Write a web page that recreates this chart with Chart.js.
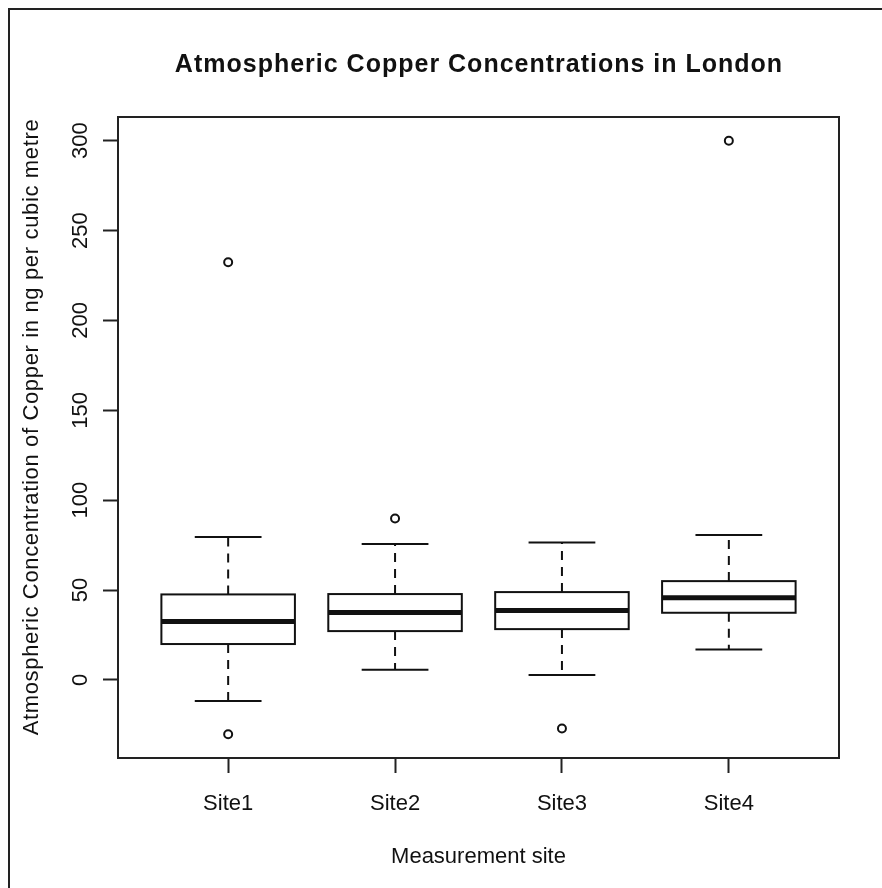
<!DOCTYPE html>
<html>
<head>
<meta charset="utf-8">
<script src="https://cdn.jsdelivr.net/npm/chart.js@4.4.0/dist/chart.umd.min.js"></script>
<style>
  html, body { margin: 0; padding: 0; background: #fff; }
  #wrap { width: 882px; height: 888px; }
</style>
</head>
<body>
<div id="wrap"><canvas id="boxChart" width="882" height="888"></canvas></div>
<script>
// Box statistics (ng per cubic metre)
const sites = ['Site1', 'Site2', 'Site3', 'Site4'];
const lowWhisker = [-11.7, 5.7, 2.8, 17.0];
const lowerQuartile = [20.0, 27.2, 28.3, 37.4];
const medians = [32.6, 37.6, 38.7, 45.7];
const upperQuartile = [47.6, 47.8, 48.9, 55.0];
const highWhisker = [79.6, 75.6, 76.5, 80.7];

// Outliers: site number and value
const outlierSite = [1, 1, 2, 3, 4];
const outlierValue = [232.4, -30.2, 89.8, -27.0, 300.0];

const yTicks = [0, 50, 100, 150, 200, 250, 300];
const yRange = [-43.4, 313.2];
const xRange = [0.34, 4.66];

const titleText = 'Atmospheric Copper Concentrations in London';
const yTitleText = 'Atmospheric Concentration of Copper in ng per cubic metre';

const ink = '#111';
const fontFamily = '"Liberation Sans", Arial, Helvetica, sans-serif';

// Draw whiskers, boxes, medians, frame and the titles with the chart scales
const boxPlugin = {
    id: 'boxes',
    beforeDraw(chart) {
        const ctx = chart.ctx;
        ctx.save();
        ctx.fillStyle = '#fff';
        ctx.fillRect(0, 0, chart.width, chart.height);
        // outer border of the picture (left and top only)
        ctx.strokeStyle = '#222';
        ctx.lineWidth = 2;
        ctx.beginPath();
        ctx.moveTo(9, chart.height);
        ctx.lineTo(9, 9);
        ctx.lineTo(chart.width, 9);
        ctx.stroke();
        ctx.restore();
    },
    afterDatasetsDraw(chart) {
        const { ctx, chartArea } = chart;
        const xs = chart.scales.x;
        const ys = chart.scales.y;
        ctx.save();
        ctx.strokeStyle = ink;

        sites.forEach((s, i) => {
            const cx = xs.getPixelForValue(i + 1);
            const half = xs.getPixelForValue(i + 1.4) - cx;
            const capHalf = xs.getPixelForValue(i + 1.2) - cx;
            const yLo = ys.getPixelForValue(lowWhisker[i]);
            const yQ1 = ys.getPixelForValue(lowerQuartile[i]);
            const yMed = ys.getPixelForValue(medians[i]);
            const yQ3 = ys.getPixelForValue(upperQuartile[i]);
            const yHi = ys.getPixelForValue(highWhisker[i]);

            // dashed whiskers
            ctx.lineWidth = 2;
            ctx.setLineDash([9, 7]);
            ctx.beginPath();
            ctx.moveTo(cx, yQ3);
            ctx.lineTo(cx, yHi);
            ctx.moveTo(cx, yQ1);
            ctx.lineTo(cx, yLo);
            ctx.stroke();
            ctx.setLineDash([]);

            // staples
            ctx.beginPath();
            ctx.moveTo(cx - capHalf, yHi);
            ctx.lineTo(cx + capHalf, yHi);
            ctx.moveTo(cx - capHalf, yLo);
            ctx.lineTo(cx + capHalf, yLo);
            ctx.stroke();

            // box
            ctx.strokeRect(cx - half, yQ3, half * 2, yQ1 - yQ3);

            // median
            ctx.lineWidth = 5;
            ctx.lineCap = 'butt';
            ctx.beginPath();
            ctx.moveTo(cx - half, yMed);
            ctx.lineTo(cx + half, yMed);
            ctx.stroke();
        });

        // plot frame
        ctx.lineWidth = 2;
        ctx.strokeStyle = '#222';
        ctx.strokeRect(chartArea.left, chartArea.top,
            chartArea.right - chartArea.left, chartArea.bottom - chartArea.top);
        ctx.restore();
    },
    afterDraw(chart) {
        const { ctx, chartArea } = chart;
        const midX = (chartArea.left + chartArea.right) / 2;
        ctx.save();
        ctx.fillStyle = ink;

        // main title, centred over the plot region
        ctx.font = 'bold 25px ' + fontFamily;
        ctx.letterSpacing = '1px';
        ctx.textAlign = 'center';
        ctx.textBaseline = 'alphabetic';
        ctx.fillText(titleText, midX + 0.5, 72);

        // y axis title, rotated
        ctx.font = '22px ' + fontFamily;
        ctx.letterSpacing = '0.65px';
        ctx.textBaseline = 'middle';
        ctx.translate(32, 427);
        ctx.rotate(-Math.PI / 2);
        ctx.fillText(yTitleText, 0, 0);
        ctx.restore();
    }
};

const ctx = document.getElementById('boxChart').getContext('2d');
const chart = new Chart(ctx, {
    type: 'scatter',
    data: {
        datasets: [{
            label: 'Outliers',
            data: outlierSite.map((s, i) => ({ x: s, y: outlierValue[i] })),
            pointStyle: 'circle',
            pointRadius: 4,
            pointHoverRadius: 4,
            pointBorderWidth: 2,
            pointBorderColor: ink,
            pointBackgroundColor: '#fff'
        }]
    },
    options: {
        responsive: false,
        animation: false,
        events: [],
        layout: { padding: { left: 0, right: 43, top: 117, bottom: 0 } },
        plugins: {
            legend: { display: false },
            tooltip: { enabled: false },
            title: { display: false }
        },
        scales: {
            x: {
                type: 'linear',
                min: xRange[0],
                max: xRange[1],
                afterBuildTicks: (scale) => {
                    scale.ticks = sites.map((s, i) => ({ value: i + 1 }));
                },
                afterFit: (scale) => { scale.height = 130; },
                grid: {
                    drawOnChartArea: false,
                    drawTicks: true,
                    tickLength: 15,
                    tickWidth: 2,
                    tickColor: '#222'
                },
                border: { display: true, color: '#222', width: 2 },
                ticks: {
                    autoSkip: false,
                    maxRotation: 0,
                    padding: 18,
                    color: ink,
                    font: { family: fontFamily, size: 22 },
                    callback: (v) => sites[Math.round(v) - 1]
                },
                title: {
                    display: true,
                    text: 'Measurement site',
                    color: ink,
                    font: { family: fontFamily, size: 22 },
                    padding: { top: 0, bottom: 18 }
                }
            },
            y: {
                type: 'linear',
                min: yRange[0],
                max: yRange[1],
                afterBuildTicks: (scale) => {
                    scale.ticks = yTicks.map(v => ({ value: v }));
                },
                afterFit: (scale) => { scale.width = 118; },
                grid: {
                    drawOnChartArea: false,
                    drawTicks: true,
                    tickLength: 15,
                    tickWidth: 2,
                    tickColor: '#222'
                },
                border: { display: true, color: '#222', width: 2 },
                ticks: {
                    autoSkip: false,
                    minRotation: 90,
                    maxRotation: 90,
                    crossAlign: 'center',
                    padding: 4,
                    color: ink,
                    font: { family: fontFamily, size: 22 }
                },
                title: { display: false }
            }
        }
    },
    plugins: [boxPlugin]
});
</script>
</body>
</html>
